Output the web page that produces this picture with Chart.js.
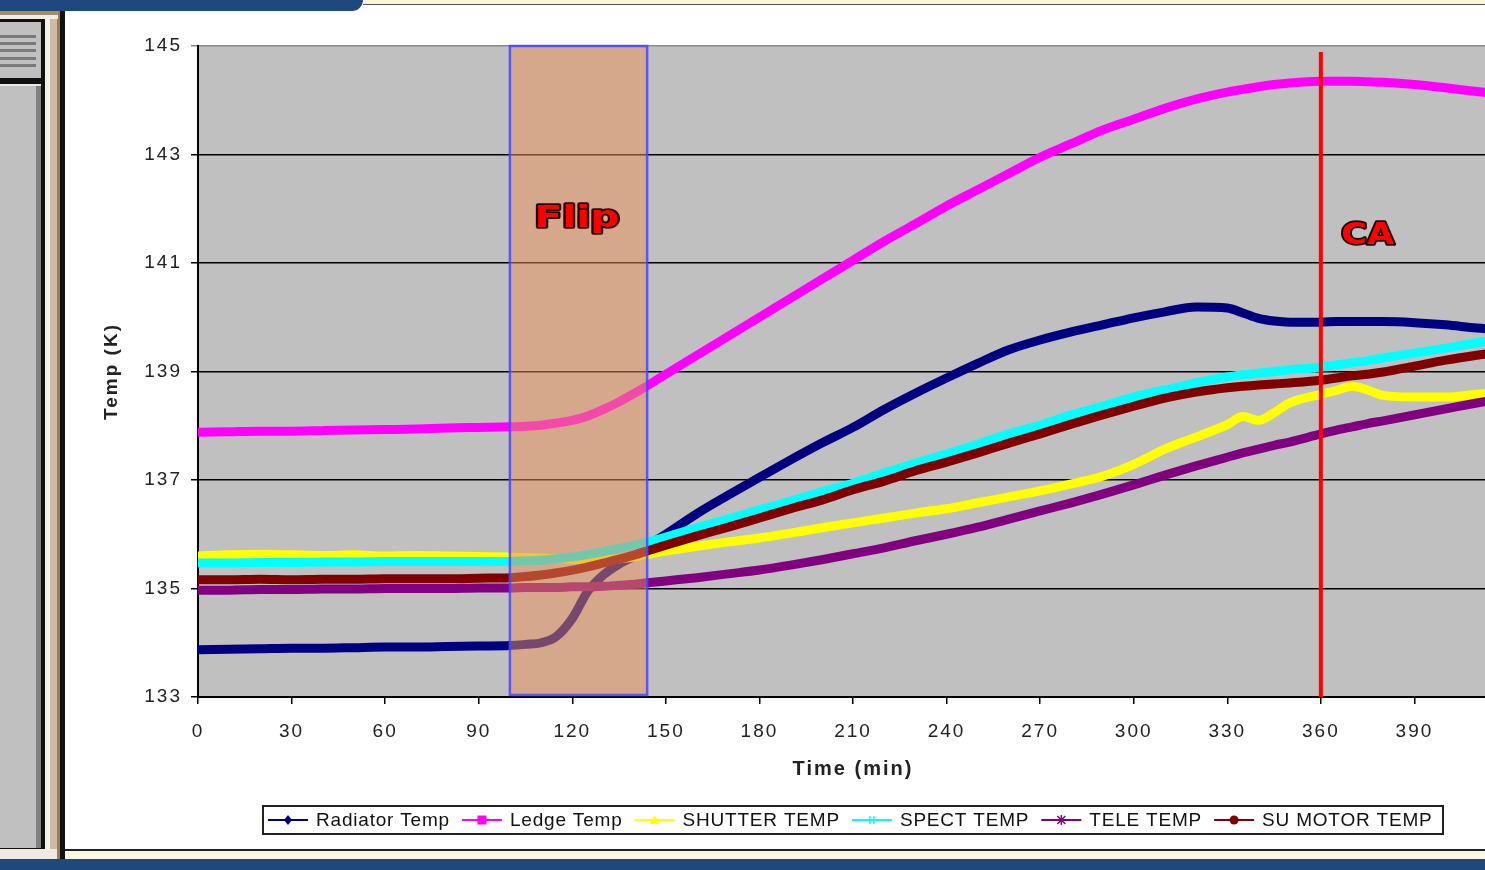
<!DOCTYPE html>
<html>
<head>
<meta charset="utf-8">
<title>Temp (K) vs Time (min)</title>
<script src="https://cdn.jsdelivr.net/npm/chart.js@4.4.1/dist/chart.umd.min.js"></script>
<style>
  html, body { margin: 0; padding: 0; width: 1485px; height: 870px; overflow: hidden; background: #ffffff; }
  .b { position: absolute; }
  #wrap { position: absolute; left: 65px; top: 0; width: 1483px; height: 849px; }
</style>
</head>
<body>
<div id="wrap"><canvas id="chart"></canvas></div>

<!-- window frame around the chart sheet -->
<div class="b" style="left:0;top:0;width:363px;height:11px;background:#1f497d;border-bottom-right-radius:12px;"></div>
<div class="b" style="left:363px;top:0;width:1122px;height:4px;background:#fbf6d8;border-bottom:1px solid #555;"></div>

<div class="b" style="left:0;top:11px;width:60px;height:848px;background:linear-gradient(to right,#c0c0c0 0 36px,#808080 36px 41px,#111 41px 45px,#f4f0ea 45px 50px,#cdbba5 50px 57px,#9b7b59 57px 60px);"></div>
<div class="b" style="left:0;top:11px;width:58px;height:4px;background:#a98b6a;"></div>
<div class="b" style="left:0;top:15px;width:58px;height:4px;background:#f2ede4;"></div>
<div class="b" style="left:0;top:19px;width:45px;height:62px;background:#111;"></div>
<div class="b" style="left:0;top:22px;width:41px;height:56px;background:#c0c0c0;"></div>
<div class="b" style="left:0;top:35px;width:36px;height:3px;background:#7a7a7a;"></div>
<div class="b" style="left:0;top:42px;width:36px;height:3px;background:#7a7a7a;"></div>
<div class="b" style="left:0;top:49px;width:36px;height:3px;background:#7a7a7a;"></div>
<div class="b" style="left:0;top:57px;width:36px;height:3px;background:#7a7a7a;"></div>
<div class="b" style="left:0;top:64px;width:36px;height:3px;background:#7a7a7a;"></div>
<div class="b" style="left:0;top:81px;width:45px;height:768px;background:#111;"></div>
<div class="b" style="left:0;top:84px;width:41px;height:762px;background:linear-gradient(to right,#c0c0c0 0 36px,#808080 36px 41px);border-top:2px solid #e8e8e8;"></div>
<div class="b" style="left:0;top:849px;width:57px;height:10px;background:#f0ebe2;"></div>
<div class="b" style="left:60px;top:11px;width:5px;height:848px;background:#111;"></div>

<div class="b" style="left:65px;top:849px;width:1420px;height:2px;background:#222;"></div>
<div class="b" style="left:65px;top:851px;width:1420px;height:8px;background:#fdf9e0;"></div>
<div class="b" style="left:0;top:859px;width:1485px;height:11px;background:#1f497d;"></div>

<script>
// Sample times (minutes)
const minutes = [0,10,20,30,40,50,60,70,80,90,100,105,110,115,120,125,130,135,140,145,150,
  160,170,180,190,200,210,220,230,240,250,260,270,280,290,300,310,320,330,335,340,345,350,
  360,365,370,375,380,390,400,410,420];

// Temperatures (K)
const radiatorTemp = [133.87,133.88,133.89,133.90,133.90,133.91,133.92,133.92,133.93,133.94,133.95,133.97,134.00,134.12,134.45,134.95,135.25,135.45,135.60,135.82,136.00,
  136.38,136.72,137.05,137.37,137.68,137.97,138.30,138.60,138.88,139.15,139.40,139.58,139.73,139.86,139.99,140.10,140.19,140.17,140.08,139.98,139.93,139.91,
  139.91,139.92,139.92,139.92,139.92,139.90,139.86,139.80,139.76];
const ledgeTemp = [137.88,137.89,137.90,137.90,137.91,137.92,137.93,137.94,137.96,137.97,137.98,137.99,138.01,138.05,138.10,138.18,138.30,138.44,138.60,138.77,138.95,
  139.30,139.65,140.00,140.35,140.70,141.05,141.40,141.72,142.05,142.35,142.65,142.95,143.20,143.45,143.65,143.85,144.02,144.15,144.20,144.25,144.29,144.32,
  144.35,144.35,144.35,144.34,144.33,144.29,144.23,144.16,144.10];
const shutterTemp = [135.60,135.62,135.63,135.62,135.61,135.62,135.60,135.61,135.60,135.59,135.58,135.57,135.56,135.55,135.54,135.53,135.53,135.55,135.58,135.64,135.69,
  135.78,135.86,135.93,136.02,136.12,136.21,136.30,136.39,136.47,136.58,136.69,136.80,136.93,137.07,137.29,137.57,137.79,138.02,138.17,138.10,138.24,138.42,
  138.58,138.65,138.73,138.66,138.56,138.53,138.53,138.58,138.62];
const spectTemp = [135.47,135.47,135.48,135.48,135.49,135.49,135.50,135.50,135.50,135.50,135.50,135.51,135.52,135.55,135.58,135.63,135.68,135.74,135.80,135.87,135.95,
  136.12,136.28,136.45,136.61,136.78,136.94,137.13,137.31,137.48,137.66,137.85,138.01,138.20,138.36,138.53,138.66,138.79,138.90,138.94,138.97,139.00,139.03,
  139.08,139.12,139.16,139.20,139.25,139.34,139.43,139.53,139.62];
const teleTemp = [134.97,134.97,134.98,134.98,134.99,134.99,135.00,135.00,135.00,135.01,135.01,135.02,135.02,135.02,135.03,135.03,135.04,135.06,135.08,135.11,135.14,
  135.20,135.27,135.34,135.43,135.53,135.64,135.75,135.88,136.00,136.13,136.28,136.43,136.58,136.74,136.91,137.09,137.26,137.42,137.50,137.57,137.64,137.70,
  137.85,137.92,137.98,138.04,138.09,138.20,138.31,138.42,138.52];
const suMotorTemp = [135.16,135.16,135.17,135.16,135.17,135.17,135.18,135.18,135.18,135.19,135.20,135.22,135.25,135.29,135.34,135.40,135.47,135.54,135.62,135.71,135.80,
  135.97,136.13,136.30,136.47,136.63,136.82,136.98,137.17,137.33,137.50,137.68,137.85,138.03,138.20,138.36,138.51,138.62,138.70,138.73,138.75,138.77,138.79,
  138.84,138.88,138.92,138.95,138.99,139.10,139.21,139.30,139.38];

const seriesNames  = ['Radiator Temp','Ledge Temp','SHUTTER TEMP','SPECT TEMP','TELE TEMP','SU MOTOR TEMP'];
const seriesValues = [radiatorTemp, ledgeTemp, shutterTemp, spectTemp, teleTemp, suMotorTemp];
const seriesColors = ['#000080','#ff00ff','#ffff00','#00ffff','#800080','#800000'];
const seriesMarkers = ['diamond','square','triangle','cross','star','circle'];

const xTicks = [0,30,60,90,120,150,180,210,240,270,300,330,360,390,420];
const yTicks = [133,135,137,139,141,143,145];

const flipWindow = [100, 144];   // minutes
const caMinute = 360;

const datasets = seriesValues.map((vals, i) => ({
  label: seriesNames[i],
  data: minutes.map((m, k) => ({ x: m, y: vals[k] })),
  borderColor: seriesColors[i],
  backgroundColor: seriesColors[i],
  borderWidth: 9,
  pointRadius: 0,
  cubicInterpolationMode: 'monotone',
  order: seriesValues.length - i,
  marker: seriesMarkers[i]
}));

// grey plot background and letter spacing for axis text
const plotBackground = {
  id: 'plotBackground',
  beforeDraw(chart) {
    const { ctx, chartArea: a } = chart;
    ctx.save();
    ctx.fillStyle = '#c0c0c0';
    ctx.fillRect(a.left, a.top, a.right - a.left, a.bottom - a.top);
    ctx.restore();
    ctx.letterSpacing = '2px';
  }
};

function drawCallout(ctx, text, x, y, width) {
  ctx.save();
  ctx.font = 'bold 30px "DejaVu Sans"';
  ctx.letterSpacing = '0px';
  const w = ctx.measureText(text).width;
  ctx.translate(x, y);
  ctx.scale(width / w, 1);
  ctx.textAlign = 'center';
  ctx.textBaseline = 'alphabetic';
  ctx.lineJoin = 'round';
  ctx.lineWidth = 3.5;
  ctx.strokeStyle = '#200000';
  ctx.strokeText(text, 0, 11);
  ctx.fillStyle = '#ff0000';
  ctx.fillText(text, 0, 11);
  ctx.restore();
}

// Flip window, CA marker and their labels
const annotations = {
  id: 'annotations',
  afterDatasetsDraw(chart) {
    const { ctx, scales: { x, y } } = chart;
    const x0 = x.getPixelForValue(flipWindow[0]);
    const x1 = x.getPixelForValue(flipWindow[1]);
    const yTop = y.getPixelForValue(yTicks[yTicks.length - 1]);
    const yBot = y.getPixelForValue(yTicks[0]);
    ctx.save();
    ctx.fillStyle = 'rgba(234,144,88,0.5)';
    ctx.fillRect(x0, yTop, x1 - x0, yBot - yTop - 2);
    ctx.strokeStyle = 'rgba(70,70,255,0.85)';
    ctx.lineWidth = 2.5;
    ctx.strokeRect(x0, yTop, x1 - x0, yBot - yTop - 2);

    const cx = x.getPixelForValue(caMinute);
    ctx.strokeStyle = '#ff0000';
    ctx.lineWidth = 4;
    ctx.beginPath();
    ctx.moveTo(cx, y.getPixelForValue(144.89));
    ctx.lineTo(cx, yBot);
    ctx.stroke();
    ctx.restore();

    drawCallout(ctx, 'Flip', x.getPixelForValue(121.5), y.getPixelForValue(141.87), 85);
    drawCallout(ctx, 'CA', x.getPixelForValue(375), y.getPixelForValue(141.55), 53);
  }
};

function drawMarker(ctx, kind, cx, cy, color) {
  ctx.save();
  ctx.fillStyle = color;
  ctx.strokeStyle = color;
  ctx.lineWidth = 1.5;
  ctx.beginPath();
  if (kind === 'diamond') {
    ctx.moveTo(cx, cy - 5); ctx.lineTo(cx + 4, cy); ctx.lineTo(cx, cy + 5); ctx.lineTo(cx - 4, cy); ctx.closePath(); ctx.fill();
  } else if (kind === 'square') {
    ctx.fillRect(cx - 4.5, cy - 4.5, 9, 9);
  } else if (kind === 'triangle') {
    ctx.moveTo(cx, cy - 5); ctx.lineTo(cx + 5, cy + 4); ctx.lineTo(cx - 5, cy + 4); ctx.closePath(); ctx.fill();
  } else if (kind === 'cross') {
    ctx.moveTo(cx - 2, cy - 4); ctx.lineTo(cx - 2, cy + 4);
    ctx.moveTo(cx + 2, cy - 4); ctx.lineTo(cx + 2, cy + 4); ctx.stroke();
  } else if (kind === 'star') {
    ctx.moveTo(cx - 4, cy - 4); ctx.lineTo(cx + 4, cy + 4);
    ctx.moveTo(cx + 4, cy - 4); ctx.lineTo(cx - 4, cy + 4);
    ctx.moveTo(cx, cy - 5); ctx.lineTo(cx, cy + 5); ctx.stroke();
  } else {
    ctx.arc(cx, cy, 4.5, 0, Math.PI * 2); ctx.fill();
  }
  ctx.restore();
}

// boxed legend below the axis title
const boxedLegend = {
  id: 'boxedLegend',
  afterDraw(chart) {
    const { ctx } = chart;
    const box = { left: 198, top: 806, right: 1378, bottom: 834 };
    ctx.save();
    ctx.fillStyle = '#ffffff';
    ctx.fillRect(box.left, box.top, box.right - box.left, box.bottom - box.top);
    ctx.strokeStyle = '#222';
    ctx.lineWidth = 2;
    ctx.strokeRect(box.left, box.top, box.right - box.left, box.bottom - box.top);
    ctx.font = '19px "Liberation Sans", Arial, sans-serif';
    ctx.letterSpacing = '0.8px';
    ctx.textBaseline = 'middle';
    ctx.textAlign = 'left';
    const cy = (box.top + box.bottom) / 2;
    let xPos = box.left + 5;
    chart.data.datasets.forEach(ds => {
      ctx.strokeStyle = ds.borderColor;
      ctx.lineWidth = 2;
      ctx.beginPath();
      ctx.moveTo(xPos, cy);
      ctx.lineTo(xPos + 40, cy);
      ctx.stroke();
      drawMarker(ctx, ds.marker, xPos + 20, cy, ds.borderColor);
      ctx.fillStyle = '#111';
      ctx.fillText(ds.label, xPos + 48, cy + 1);
      xPos += 48 + ctx.measureText(ds.label).width + 12;
    });
    ctx.restore();
  }
};

new Chart(document.getElementById('chart'), {
  type: 'line',
  data: { datasets },
  options: {
    responsive: true,
    maintainAspectRatio: false,
    animation: false,
    layout: { padding: { top: 46, right: 40, bottom: 52, left: 0 } },
    plugins: { legend: { display: false }, tooltip: { enabled: false } },
    scales: {
      x: {
        type: 'linear',
        min: xTicks[0],
        max: xTicks[xTicks.length - 1],
        afterBuildTicks: s => { s.ticks = xTicks.map(v => ({ value: v })); },
        afterFit: s => { s.height = 100; },
        ticks: {
          autoSkip: false, maxRotation: 0,
          color: '#222', padding: 16,
          font: { family: '"Liberation Sans", Arial, sans-serif', size: 19 }
        },
        grid: { drawOnChartArea: false, drawTicks: true, tickLength: 7, color: '#000', lineWidth: 1.5 },
        border: { display: true, color: '#000', width: 2 },
        title: {
          display: true, text: 'Time (min)', color: '#222',
          font: { family: '"Liberation Sans", Arial, sans-serif', size: 20, weight: 'bold' },
          padding: { top: 0, bottom: 16 }
        }
      },
      y: {
        min: yTicks[0],
        max: yTicks[yTicks.length - 1],
        afterBuildTicks: s => { s.ticks = yTicks.map(v => ({ value: v })); },
        afterFit: s => { s.width = 133; },
        ticks: {
          color: '#222', padding: 9,
          font: { family: '"Liberation Sans", Arial, sans-serif', size: 19 }
        },
        grid: {
          color: c => (c.tick && c.tick.value === yTicks[yTicks.length - 1]) ? '#8a8a8a' : '#000',
          lineWidth: 1.5, tickLength: 7
        },
        border: { display: true, color: '#000', width: 2 },
        title: {
          display: true, text: 'Temp (K)', color: '#222',
          font: { family: '"Liberation Sans", Arial, sans-serif', size: 19, weight: 'bold' },
          padding: { top: 35, bottom: 0 }
        }
      }
    }
  },
  plugins: [plotBackground, annotations, boxedLegend]
});
</script>
</body>
</html>
